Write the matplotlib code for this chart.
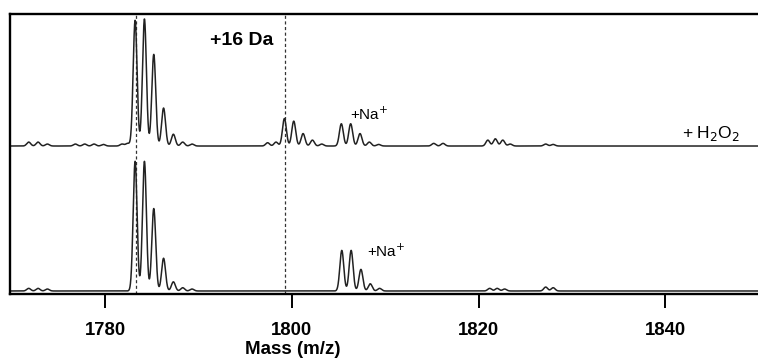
import numpy as np
import matplotlib
matplotlib.use("Agg")
import matplotlib.pyplot as plt

plt.rcParams['font.family'] = ['Liberation Sans', 'DejaVu Sans']

# Peak lists: centroid m/z and relative height (%)
ctrl_mz = [1771.8, 1772.8, 1773.8, 1783.2, 1784.2, 1785.2, 1786.25, 1787.3, 1788.3, 1789.3,
           1805.35, 1806.35, 1807.4, 1808.4, 1809.4, 1821.2, 1822.0, 1822.8, 1827.2, 1828.0]
ctrl_int = [2.0, 2.0, 1.5, 99, 99, 63, 25, 7, 2.5, 1.5,
            31, 31, 16.5, 5.5, 2, 2.0, 2.0, 1.5, 3.0, 2.5]

h2o2_mz = [1771.8, 1772.8, 1773.8, 1776.8, 1777.8, 1778.8, 1779.8, 1781.8, 1782.4,
           1783.2, 1784.2, 1785.2, 1786.25, 1787.3, 1788.3, 1789.3,
           1797.4, 1798.3, 1799.2, 1800.2, 1801.2, 1802.2, 1803.2,
           1805.3, 1806.3, 1807.3, 1808.3, 1809.3,
           1815.2, 1816.2, 1821.0, 1821.8, 1822.6, 1823.4, 1827.2, 1828.0]
h2o2_int = [3.0, 3.0, 1.5, 1.5, 1.5, 1.5, 1.2, 1.5, 2.0,
            96, 97, 70, 29, 9, 3, 1.5,
            2.5, 3.0, 21, 19, 9.5, 4.5, 1.5,
            17, 17, 9.5, 3, 1.2,
            2.0, 2.0, 4.5, 5.5, 4.5, 1.5, 1.5, 1.2]

xticks = [1780, 1800, 1820, 1840]
ref_lines = [1783.25, 1799.23]

def profile(x, mz, inten, sigma=0.21):
    y = np.zeros_like(x)
    for m, h in zip(mz, inten):
        y += h * np.exp(-0.5 * ((x - m) / sigma) ** 2)
    return y

x = np.linspace(1769, 1851, 8000)
offset = 110.7

fig = plt.figure(figsize=(7.58, 3.58), dpi=100)
ax = fig.add_axes([9.5/758, 1 - 294/358, 1 - 9.5/758 + 0.005, (294 - 14)/358])

for xv in ref_lines:
    ax.axvline(xv, color='#333333', lw=0.9, ls=(0, (2.5, 2)), zorder=1)

ax.plot(x, profile(x, ctrl_mz, ctrl_int), color='#222222', lw=1.1, zorder=2)
ax.plot(x, offset + profile(x, h2o2_mz, h2o2_int), color='#222222', lw=1.1, zorder=2)

ax.set_xlim(1769.74, 1849.95 + 0.005 * 758 / 9.325)
ax.set_ylim(-2.3, 211.5)
ax.set_yticks([])
ax.set_xticks(xticks)
ax.set_xticklabels([str(t) for t in xticks], fontsize=13.3, fontweight='bold')
ax.tick_params(axis='x', direction='out', length=10, width=1.4, pad=10)
for s in ['left', 'top', 'bottom']:
    ax.spines[s].set_linewidth(1.7)
ax.spines['right'].set_visible(False)
ax.set_xlabel('Mass (m/z)', fontsize=13.5, fontweight='bold')
ax.xaxis.set_label_coords((293 - 9.5) / 754, -0.168)

ax.text(1794.6, 187.8, '+16 Da', fontsize=14, fontweight='bold', ha='center', va='baseline')
ax.text(1806.25, 130.5, '+Na$^{+}$', fontsize=11, ha='left', va='baseline')
ax.text(1808.0, 25.7, '+Na$^{+}$', fontsize=11, ha='left', va='baseline')
ax.text(1841.85, 116.8, '+ H$_{2}$O$_{2}$', fontsize=12.5, ha='left', va='baseline')

fig.savefig('out.png', dpi=100)
